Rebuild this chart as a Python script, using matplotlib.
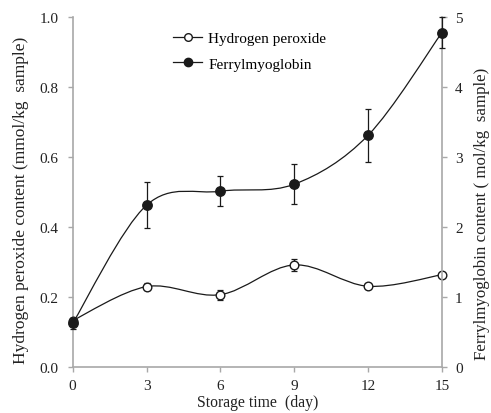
import numpy as np
import matplotlib
matplotlib.use("Agg")
import matplotlib.pyplot as plt
from matplotlib.path import Path
from matplotlib.patches import PathPatch
from matplotlib.lines import Line2D

plt.rcParams['font.family'] = ['Liberation Serif', 'DejaVu Serif']
plt.rcParams['font.size'] = 11

# --- data ---
days = [0, 3, 6, 9, 12, 15]
h2o2 = [0.132, 0.229, 0.206, 0.291, 0.230, 0.263]          # mmol/kg sample
h2o2_err = [0.006, 0.011, 0.014, 0.016, 0.005, 0.005]
ferryl = [0.62, 2.31, 2.51, 2.61, 3.31, 4.78]              # umol/kg sample
ferryl_err = [0.08, 0.325, 0.215, 0.285, 0.38, 0.22]

AXIS_GREY = '#a8a8a8'
INK = '#1a1a1a'
TXT = '#222222'


def smooth_path(x, y):
    # excel-like smoothed line: cubic bezier, tangents from neighbours
    x = np.asarray(x, float)
    y = np.asarray(y, float)
    n = len(x)
    verts = [(x[0], y[0])]
    codes = [Path.MOVETO]
    for i in range(n - 1):
        ip = max(i - 1, 0)
        inx = min(i + 2, n - 1)
        c1 = (x[i] + (x[i + 1] - x[ip]) / 6, y[i] + (y[i + 1] - y[ip]) / 6)
        c2 = (x[i + 1] - (x[inx] - x[i]) / 6, y[i + 1] - (y[inx] - y[i]) / 6)
        verts += [c1, c2, (x[i + 1], y[i + 1])]
        codes += [Path.CURVE4] * 3
    return Path(verts, codes)


fig = plt.figure(figsize=(4.91, 4.14), dpi=100)
ax = fig.add_axes([0.148, 0.112, 0.752, 0.844])
ax2 = ax.twinx()

# hydrogen peroxide (left)
ax.add_patch(PathPatch(smooth_path(days, h2o2), fill=False, lw=0.9, color=INK, zorder=2))
ax.errorbar(days, h2o2, yerr=h2o2_err, fmt='none', ecolor=INK, elinewidth=0.9,
            capsize=2.4, capthick=0.9, zorder=3, clip_on=False)
ax.plot(days, h2o2, 'o', ms=6.2, mfc='white', mec=INK, mew=1.0, zorder=4, clip_on=False)

# ferrylmyoglobin (right)
ax2.add_patch(PathPatch(smooth_path(days, ferryl), fill=False, lw=0.9, color=INK, zorder=2))
ax2.errorbar(days, ferryl, yerr=ferryl_err, fmt='none', ecolor=INK, elinewidth=0.9,
             capsize=2.4, capthick=0.9, zorder=3, clip_on=False)
ax2.plot(days, ferryl, 'o', ms=6.8, mfc=INK, mec=INK, zorder=4, clip_on=False)

ax.set_xlim(0, 15)
ax.set_ylim(0, 1.0)
ax2.set_ylim(0, 5)
ax.set_xticks(days)
ax.set_yticks(np.arange(0, 1.01, 0.2))
ax.set_yticklabels(['0.0', '0.2', '0.4', '0.6', '0.8', '1.0'])
ax2.set_yticks(range(0, 6))

for a in (ax, ax2):
    a.spines['top'].set_visible(False)
    for s in ('left', 'right', 'bottom'):
        a.spines[s].set_color(AXIS_GREY)
        a.spines[s].set_linewidth(1.2)
    a.tick_params(direction='out', length=3.5, width=1.0, color=AXIS_GREY,
                  labelcolor=TXT, labelsize=11)
ax.spines['right'].set_visible(False)
ax2.spines['left'].set_visible(False)
ax2.spines['bottom'].set_visible(False)
ax.tick_params(axis='y', pad=6.5)
ax.tick_params(axis='x', pad=5.5)
ax2.tick_params(axis='y', pad=6)

ax.set_xlabel('Storage time  (day)', labelpad=1.5, color=TXT, fontsize=11.3)
ax.set_ylabel('Hydrogen peroxide content (mmol/kg  sample)', color=TXT, fontsize=12.5)
ax.yaxis.set_label_coords(-0.118, 0.48)
ax2.set_ylabel('Ferrylmyoglobin content ( mol/kg  sample)', rotation=90, color=TXT,
               fontsize=12.2)
ax2.yaxis.set_label_coords(1.087, 0.44)

handles = [
    Line2D([], [], color=INK, lw=0.9, marker='o', ms=5.5, mfc='white', mec=INK),
    Line2D([], [], color=INK, lw=0.9, marker='o', ms=6.0, mfc=INK, mec=INK),
]
ax2.legend(handles, ['Hydrogen peroxide', 'Ferrylmyoglobin'], loc='upper left',
           bbox_to_anchor=(0.235, 0.998), frameon=False, handlelength=1.9,
           handletextpad=0.4, labelspacing=0.75, fontsize=11)

fig.savefig('out.png', dpi=100)
